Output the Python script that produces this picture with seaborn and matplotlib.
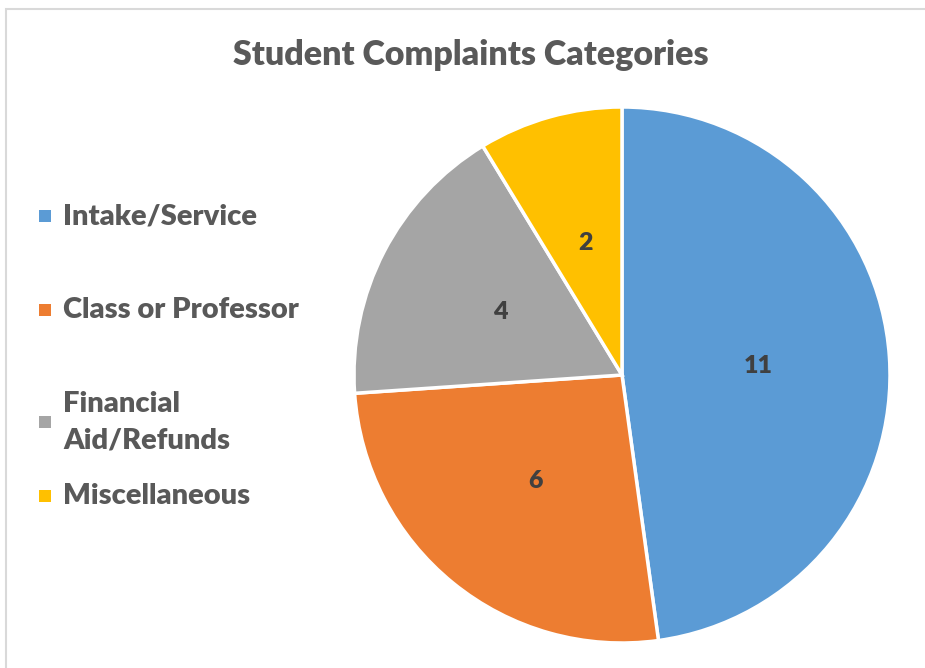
import matplotlib
matplotlib.use("Agg")
import matplotlib.pyplot as plt
import seaborn as sns
from matplotlib.patches import Rectangle

# data
categories = ["Intake/Service", "Class or Professor", "Financial Aid/Refunds", "Miscellaneous"]
legend_labels = ["Intake/Service", "Class or Professor", "Financial\nAid/Refunds", "Miscellaneous"]
counts = [11, 6, 4, 2]
colors = ["#5B9BD5", "#ED7D31", "#A5A5A5", "#FFC000"]

sns.set_theme(style="white")
plt.rcParams['font.family'] = ['Lato', 'DejaVu Sans']

W, H = 925, 668
fig = plt.figure(figsize=(W / 100, H / 100), dpi=100)
fig.patch.set_facecolor("white")

# chart frame (cropped at right/bottom)
fig.add_artist(Rectangle((5.5 / W, -0.1), 1.2, (H - 9.5) / H + 0.1,
                         transform=fig.transFigure, fill=False,
                         edgecolor="#D9D9D9", linewidth=1.5))

cx, cy, r = 622, 375, 268
ax = fig.add_axes([(cx - r) / W, (H - cy - r) / H, 2 * r / W, 2 * r / H])

total = sum(counts)
wedges, texts, autotexts = ax.pie(
    counts, colors=sns.color_palette(colors), startangle=90, counterclock=False,
    autopct=lambda p: f"{round(p * total / 100):d}", pctdistance=0.51,
    wedgeprops=dict(edgecolor="white", linewidth=2.5),
    textprops=dict(fontsize=18, fontweight="heavy", color="#404040"))
ax.set_xlim(-1.0, 1.0)
ax.set_ylim(-1.0, 1.0)
ax.set_aspect("equal")
ax.axis("off")

fig.text(471 / W, 1 - 55 / H, "Student Complaints Categories", ha="center", va="center",
         fontsize=24.5, fontweight="heavy", color="#595959")

# legend drawn by hand to match uneven spacing
leg_y = [216, 310, 422, 496]
for lab, col, y in zip(legend_labels, colors, leg_y):
    fig.add_artist(Rectangle((39 / W, 1 - (y + 6) / H), 12 / W, 12 / H,
                             transform=fig.transFigure, facecolor=col, edgecolor="none"))
    fig.text(63 / W, 1 - y / H, lab, ha="left", va="center", fontsize=21,
             fontweight="heavy", color="#595959", linespacing=1.5)

fig.savefig("out.png", dpi=100)
